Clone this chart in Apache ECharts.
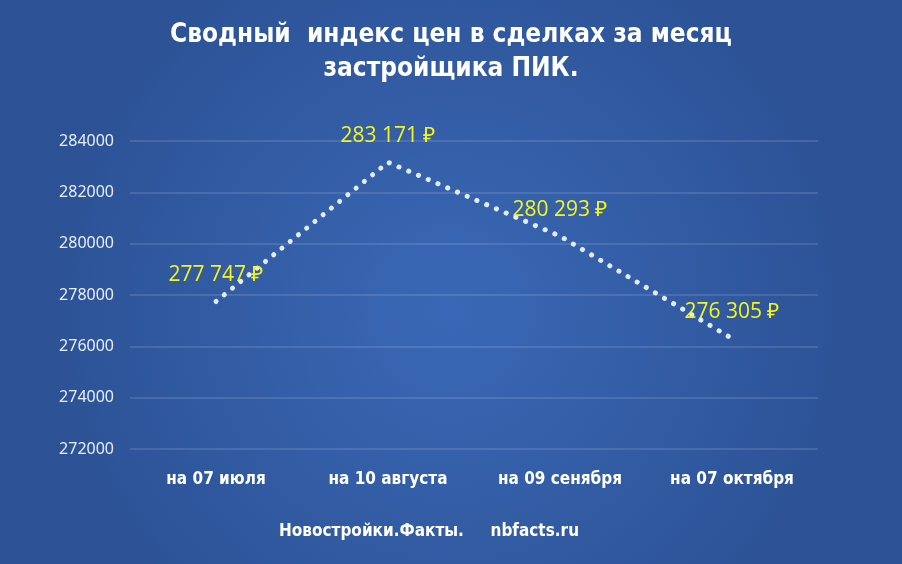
<!DOCTYPE html>
<html><head><meta charset="utf-8">
<script src="https://cdn.jsdelivr.net/npm/echarts@6/dist/echarts.min.js"></script>
<style>html,body{margin:0;padding:0;}#c{width:902px;height:564px;}</style>
</head><body><div id="c"></div>
<script>
const titleText = 'Сводный  индекс цен в сделках за месяц\nзастройщика ПИК.';
const footerText = 'Новостройки.Факты.     nbfacts.ru';
const categories = ['на 07 июля', 'на 10 августа', 'на 09 сенября', 'на 07 октября'];
const values = [277747, 283171, 280293, 276305];
const yMin = 272000, yMax = 284000, yStep = 2000;

function fmt(v){ return String(v).replace(/\B(?=(\d{3})+(?!\d))/g, ' ') + ' ₽'; }

const chart = echarts.init(document.getElementById('c'));
chart.setOption({
  animation: false,
  backgroundColor: {
    type: 'radial', x: 0.5, y: 0.55, r: 0.75,
    colorStops: [{offset: 0, color: '#3a68b6'}, {offset: 1, color: '#2c5194'}]
  },
  title: [{
    text: titleText, left: 'center', top: 13, padding: [5, 0, 5, 12],
    textStyle: {color: '#ffffff', fontFamily: 'DejaVu Sans Condensed', fontWeight: 'bold', fontSize: 26, lineHeight: 34}
  }, {
    text: footerText, left: 274, top: 518,
    textStyle: {color: '#ffffff', fontFamily: 'DejaVu Sans Condensed', fontWeight: 'bold', fontSize: 17}
  }],
  grid: {left: 130, right: 84, top: 141, bottom: 115},
  xAxis: {
    type: 'category', data: categories, boundaryGap: true,
    axisLine: {show: false}, axisTick: {show: false},
    axisLabel: {color: '#ffffff', fontFamily: 'DejaVu Sans Condensed', fontWeight: 'bold', fontSize: 17, margin: 22}
  },
  yAxis: {
    type: 'value', min: yMin, max: yMax, interval: yStep,
    axisLine: {show: false}, axisTick: {show: false},
    axisLabel: {color: '#e8eef8', fontFamily: 'Noto Sans', fontSize: 16, margin: 16, formatter: v => String(v)},
    splitLine: {lineStyle: {color: 'rgba(255,255,255,0.16)', width: 1.5}}
  },
  series: [{
    type: 'line', data: values, symbol: 'circle', symbolSize: 1, showSymbol: true,
    itemStyle: {color: 'rgba(0,0,0,0)', borderWidth: 0},
    lineStyle: {color: '#e3ecfb', width: 5, type: [0.1, 10.5], cap: 'round'},
    label: {show: true, position: 'top', distance: 15, color: '#f5f51c', fontFamily: 'Open Sans', fontSize: 21,
      formatter: p => fmt(p.value)}
  }]
});
</script></body></html>
